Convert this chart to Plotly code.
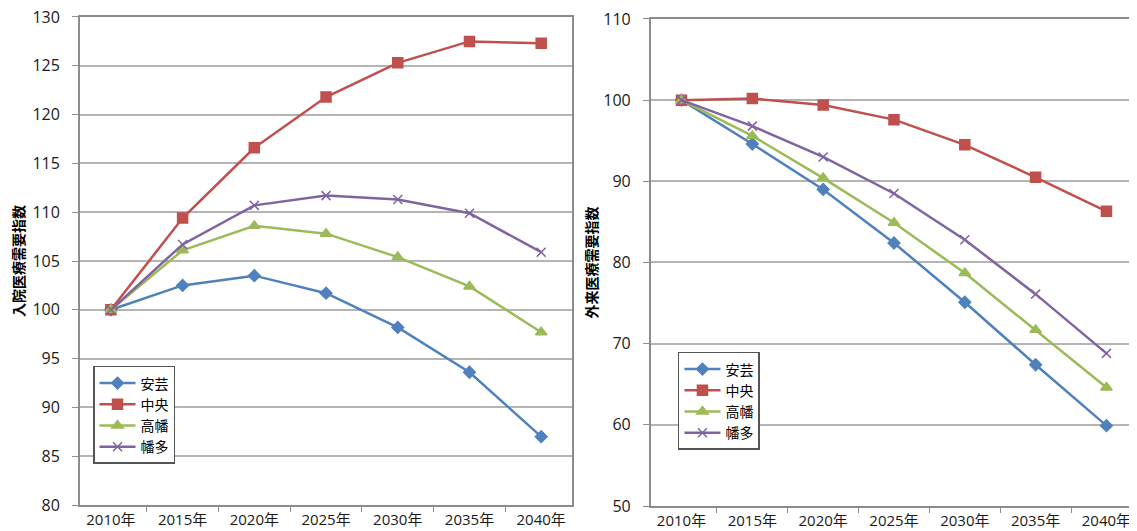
import plotly.graph_objects as go

years = ["2010年", "2015年", "2020年", "2025年", "2030年", "2035年", "2040年"]
names = ["安芸", "中央", "高幡", "幡多"]

# 入院医療需要指数 (left)
in_aki = [100, 102.5, 103.5, 101.7, 98.2, 93.6, 87.0]
in_chuo = [100, 109.4, 116.6, 121.8, 125.3, 127.5, 127.3]
in_takahata = [100, 106.1, 108.6, 107.8, 105.4, 102.4, 97.7]
in_hata = [100, 106.7, 110.7, 111.7, 111.3, 109.9, 105.9]

# 外来医療需要指数 (right)
out_aki = [100, 94.6, 89.0, 82.4, 75.1, 67.4, 59.9]
out_chuo = [100, 100.2, 99.4, 97.6, 94.5, 90.5, 86.3]
out_takahata = [100, 95.6, 90.4, 84.9, 78.7, 71.7, 64.6]
out_hata = [100, 96.8, 93.0, 88.5, 82.8, 76.1, 68.8]

colors = ["#4F81BD", "#C0504D", "#9BBB59", "#8064A2"]
symbols = ["diamond", "square", "triangle-up", "x-thin"]
msizes = [9, 10, 10, 9]

FONT = "Open Sans, Noto Sans CJK JP, sans-serif"
JP = "Noto Sans CJK JP, sans-serif"

fig = go.Figure()

def add(series_list, xa, ya, legend):
    for name, vals, c, s, ms in zip(names, series_list, colors, symbols, msizes):
        fig.add_trace(go.Scatter(
            x=years, y=vals, name=name, mode="lines+markers",
            line=dict(color=c, width=2.5),
            marker=dict(symbol=s, size=ms, color=c, line=dict(color=c, width=1.5)),
            xaxis=xa, yaxis=ya, legend=legend,
        ))

add([in_aki, in_chuo, in_takahata, in_hata], "x", "y", "legend")
add([out_aki, out_chuo, out_takahata, out_hata], "x2", "y2", "legend2")

xtickfont = dict(family=FONT, size=15, color="#1a1a1a")
ytickfont = dict(family=FONT, size=16, color="#1a1a1a")
xcommon = dict(type="category", showgrid=False, showline=True, linecolor="#8c8c8c", linewidth=2,
               ticks="outside", tickson="boundaries", ticklen=5, tickcolor="#8c8c8c",
               tickfont=xtickfont, mirror=True, automargin=False, fixedrange=True,
               ticklabeloverflow="allow")
ycommon = dict(showgrid=True, gridcolor="#b4b4b4", gridwidth=1.5, showline=True, linecolor="#8c8c8c",
               linewidth=2, ticks="outside", ticklen=6, tickcolor="#8c8c8c", tickfont=ytickfont,
               ticklabelstandoff=9, ticklabeloverflow="allow",
               mirror=True, automargin=False, zeroline=False, fixedrange=True)

fig.update_layout(
    width=1129, height=523,
    margin=dict(l=0, r=0, t=0, b=0),
    paper_bgcolor="white", plot_bgcolor="white",
    font=dict(family=FONT, color="#222222"),
    xaxis=dict(domain=[0.0638, 0.4996], anchor="y", **xcommon),
    yaxis=dict(domain=[0.0497, 0.9828], anchor="x", range=[80, 130], dtick=5,
               title=dict(text="入院医療需要指数", font=dict(family=JP, size=14, color="black", weight="bold"), standoff=6),
               **ycommon),
    xaxis2=dict(domain=[0.5695, 1.0], anchor="y2", **xcommon),
    yaxis2=dict(domain=[0.0478, 0.979], anchor="x2", range=[50, 110], dtick=10,
                title=dict(text="外来医療需要指数", font=dict(family=JP, size=14, color="black", weight="bold"), standoff=2),
                **ycommon),
    legend=dict(x=0.0753, y=0.3155, xanchor="left", yanchor="top", bgcolor="white",
                bordercolor="#555555", borderwidth=1.5,
                font=dict(family=JP, size=14, color="black"), itemwidth=36, tracegroupgap=0),
    legend2=dict(x=0.5934, y=0.3423, xanchor="left", yanchor="top", bgcolor="white",
                 bordercolor="#555555", borderwidth=1.5,
                 font=dict(family=JP, size=14, color="black"), itemwidth=36, tracegroupgap=0),
    showlegend=True,
)

fig.write_html("out.html")
